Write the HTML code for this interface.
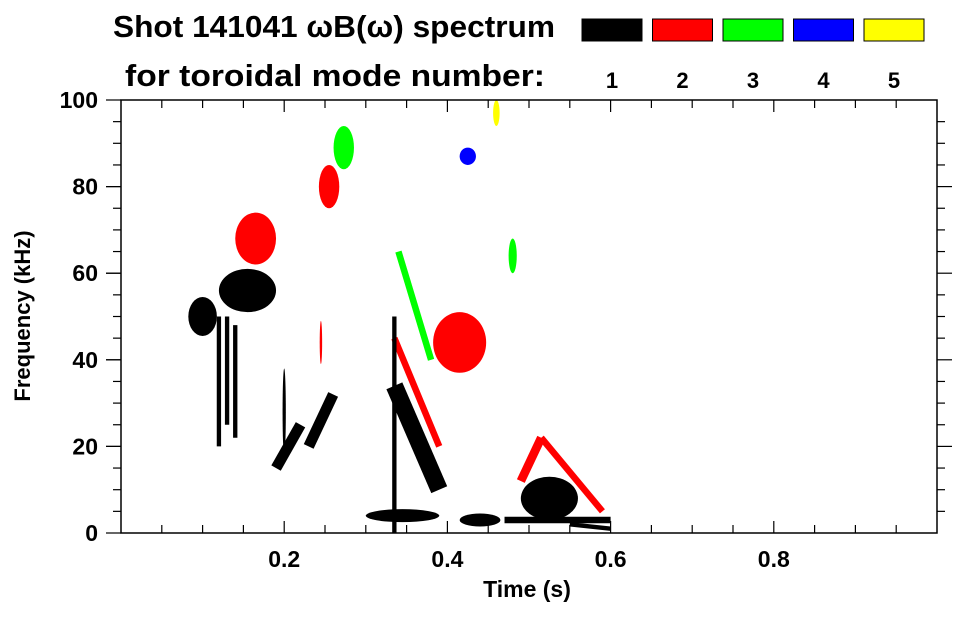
<!DOCTYPE html>
<html><head><meta charset="utf-8"><style>
body{margin:0;background:#fff;}
svg text{font-family:"Liberation Sans",sans-serif;font-weight:bold;fill:#000;}
</style></head><body>
<svg id="c" width="963" height="615" viewBox="0 0 963 615">
<text x="113" y="37" font-size="31" textLength="442" lengthAdjust="spacingAndGlyphs">Shot 141041 ωB(ω) spectrum</text>
<text x="125" y="86" font-size="31" textLength="420" lengthAdjust="spacingAndGlyphs">for toroidal mode number:</text>
<g id="legend"></g>
<g id="marks"></g>
<g id="axes"></g>
<text x="527" y="597" font-size="23" text-anchor="middle">Time (s)</text>
<text transform="translate(30,316) rotate(-90)" font-size="22" text-anchor="middle">Frequency (kHz)</text>
</svg>
<script>
const modes=[1,2,3,4,5];
const modeColors=["#000","#f00","#0f0","#00f","#ff0"];
// blobs: time center (s), freq center (kHz), time width, freq height, mode
const blobT=[0.10,0.155,0.525,0.345,0.44,0.165,0.255,0.415,0.273,0.48,0.425,0.46,0.20,0.245];
const blobF=[50,56,8,4,3,68,80,44,89,64,87,97,28,44];
const blobW=[0.035,0.07,0.07,0.09,0.05,0.05,0.025,0.065,0.025,0.01,0.02,0.008,0.004,0.003];
const blobH=[9,10,10,3,3,12,10,14,10,8,4,6,20,10];
const blobM=[1,1,1,1,1,2,2,2,3,3,4,5,1,2];
// ridges: start t,f -> end t,f, thickness kHz, mode
const ridgeT0=[0.19,0.23,0.335,0.335,0.34,0.49,0.515,0.12,0.13,0.14,0.335,0.47,0.55];
const ridgeF0=[15,20,34,45,65,12,22,50,50,48,0,3,2];
const ridgeT1=[0.22,0.26,0.39,0.39,0.38,0.515,0.59,0.12,0.13,0.14,0.335,0.6,0.6];
const ridgeF1=[25,32,10,20,40,22,5,20,25,22,50,3,1];
const ridgeW=[2.5,2.5,4,1.5,1.5,2,1.5,1,1,1,1,1.5,1];
const ridgeM=[1,1,1,2,3,2,2,1,1,1,1,1,1];
const xTicks=[0.2,0.4,0.6,0.8];
const yTicks=[0,20,40,60,80,100];
const X0=121,X1=937,Y0=533,Y1=100;
const xs=t=>X0+t*(X1-X0);
const ys=f=>Y0-f/100*(Y0-Y1);
const NS="http://www.w3.org/2000/svg";
function mk(tag,attrs,parent){const e=document.createElementNS(NS,tag);for(const k in attrs)e.setAttribute(k,attrs[k]);parent.appendChild(e);return e;}
const lg=document.getElementById('legend');
modes.forEach((m,i)=>{
 const x=582+i*70.5;
 const r=mk('rect',{x:x,y:19,width:60,height:22,fill:modeColors[i],stroke:"#000","stroke-width":1},lg);
 
 
 const t=mk('text',{x:x+30,y:88,"font-size":22,"text-anchor":"middle"},lg);t.textContent=m;
 
 
});
const mg=document.getElementById('marks');
blobT.forEach((t,i)=>{
 const e=mk('ellipse',{cx:xs(t),cy:ys(blobF[i]),rx:blobW[i]/2*(X1-X0),ry:blobH[i]/2*(Y0-Y1)/100,fill:modeColors[blobM[i]-1]},mg);
 
 
});
ridgeT0.forEach((t,i)=>{
 const e=mk('line',{x1:xs(t),y1:ys(ridgeF0[i]),x2:xs(ridgeT1[i]),y2:ys(ridgeF1[i]),stroke:modeColors[ridgeM[i]-1],"stroke-width":ridgeW[i]*(Y0-Y1)/100},mg);
 
 
});
const ax=document.getElementById('axes');
mk('rect',{x:X0,y:Y1,width:X1-X0,height:Y0-Y1,fill:"none",stroke:"#000","stroke-width":1.5},ax);
for(let t=0.05;t<1;t+=0.05){const x=xs(t);const maj=Math.abs(t*5-Math.round(t*5))<1e-6;const L=maj?12:8;
 mk('line',{x1:x,y1:Y0,x2:x,y2:Y0-L,stroke:"#000","stroke-width":1.2},ax);
 mk('line',{x1:x,y1:Y1,x2:x,y2:Y1+L,stroke:"#000","stroke-width":1.2},ax);}
for(let f=5;f<100;f+=5){const y=ys(f);const maj=f%20==0;const L=maj?15:8;
 mk('line',{x1:X0,y1:y,x2:X0-L,y2:y,stroke:"#000","stroke-width":1.2},ax);
 mk('line',{x1:X1,y1:y,x2:X1+L,y2:y,stroke:"#000","stroke-width":1.2},ax);}
yTicks.forEach(f=>{mk('line',{x1:X0,y1:ys(f),x2:X0-15,y2:ys(f),stroke:"#000","stroke-width":1.2},ax);
 const t=mk('text',{x:98,y:ys(f)+8,"font-size":23,"text-anchor":"end"},ax);t.textContent=f;
 
 });
xTicks.forEach(v=>{const t=mk('text',{x:xs(v),y:567,"font-size":23,"text-anchor":"middle"},ax);t.textContent=v;
 
 });
</script>
</body></html>
